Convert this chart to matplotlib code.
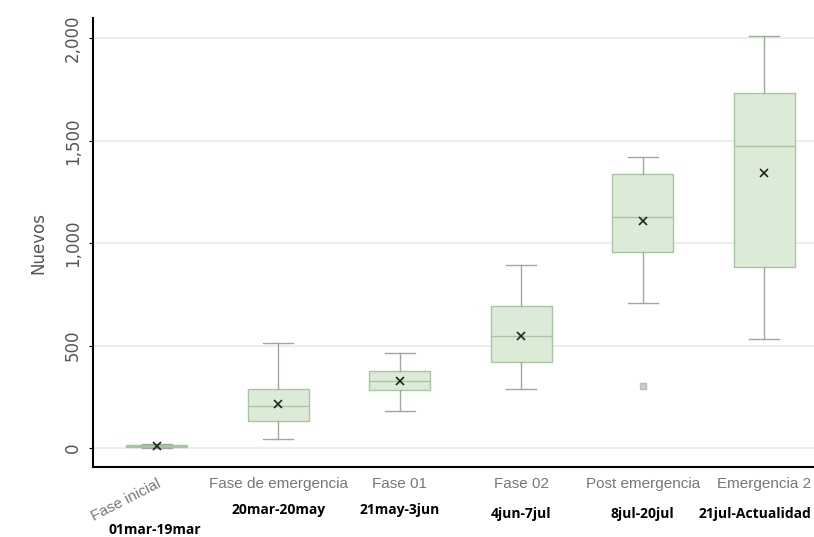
import matplotlib.pyplot as plt
from matplotlib.ticker import FuncFormatter

# =========================================================
# Dati
# =========================================================
fasi = ["Fase inicial", "Fase de emergencia", "Fase 01", "Fase 02",
        "Post emergencia", "Emergencia 2"]
periodi = ["01mar-19mar", "20mar-20may", "21may-3jun", "4jun-7jul",
           "8jul-20jul", "21jul-Actualidad"]

minimo = [2, 44, 180, 288, 707, 532]
q1 = [6, 132, 283, 420, 956, 883]
mediana = [10, 205, 330, 545, 1127, 1473]
q3 = [14, 288, 376, 693, 1337, 1732]
massimo = [20, 512, 463, 893, 1420, 2010]
media = [10, 215, 327, 546, 1107, 1341]
outlier = [[], [], [], [], [302], []]

# =========================================================
# Grafico
# =========================================================
fig = plt.figure(figsize=(8.14, 5.37), dpi=100)
ax = fig.add_axes([0.114, 0.130, 0.886, 0.836])

stats = []
for i in range(len(fasi)):
    stats.append({
        "label": fasi[i], "whislo": minimo[i], "q1": q1[i], "med": mediana[i],
        "q3": q3[i], "whishi": massimo[i], "mean": media[i], "fliers": outlier[i],
    })

verde_bordo = "#a9c3a5"
ax.bxp(stats, positions=range(len(fasi)), widths=0.5, showmeans=True,
       patch_artist=True,
       boxprops=dict(facecolor="#dcebd8", edgecolor=verde_bordo, linewidth=1),
       medianprops=dict(color=verde_bordo, linewidth=1),
       whiskerprops=dict(color="#9aab98", linewidth=1),
       capprops=dict(color="#9aab98", linewidth=1),
       meanprops=dict(marker="x", markeredgecolor="#222222", markersize=5.5,
                      markeredgewidth=1.2),
       flierprops=dict(marker="s", markerfacecolor="#cccccc",
                       markeredgecolor="#bbbbbb", markersize=4))

ax.set_xlim(-0.527, 5.41)
ax.set_ylim(-93, 2098)
ax.set_yticks([0, 500, 1000, 1500, 2000])
ax.yaxis.set_major_formatter(FuncFormatter(lambda v, p: f"{int(v):,}"))
ax.grid(axis="y", color="#ebebeb", linewidth=1.2)
ax.set_axisbelow(True)

for lato in ["top", "right"]:
    ax.spines[lato].set_visible(False)
ax.spines["left"].set_linewidth(1.5)
ax.spines["bottom"].set_linewidth(1.5)

ax.tick_params(axis="y", labelsize=12, labelcolor="#555555", length=3,
               labelrotation=90, pad=5)
for t in ax.get_yticklabels():
    t.set_va("center")
ax.set_ylabel("Nuevos", fontsize=12, color="#555555", labelpad=4)
ax.yaxis.set_label_coords(-0.063, 0.5)

ax.tick_params(axis="x", length=0, labelsize=11, labelcolor="#777777", pad=7)
ax.set_xticks(range(len(fasi)))
ax.set_xticklabels(fasi, family="Liberation Sans")
prima = ax.get_xticklabels()[0]
prima.set_rotation(27)
prima.set_ha("right")
prima.set_rotation_mode("anchor")

# etichette dei periodi sotto l'asse
y_periodi = [-0.14, -0.095, -0.095, -0.105, -0.105, -0.105]
dx_periodi = [-0.02, 0, 0, 0, 0, -0.08]
for i, testo in enumerate(periodi):
    ax.text(i + dx_periodi[i], y_periodi[i], testo,
            transform=ax.get_xaxis_transform(), ha="center", va="center",
            fontsize=10, fontweight="bold", family="Open Sans", color="black")

fig.savefig("out.png", dpi=100)
